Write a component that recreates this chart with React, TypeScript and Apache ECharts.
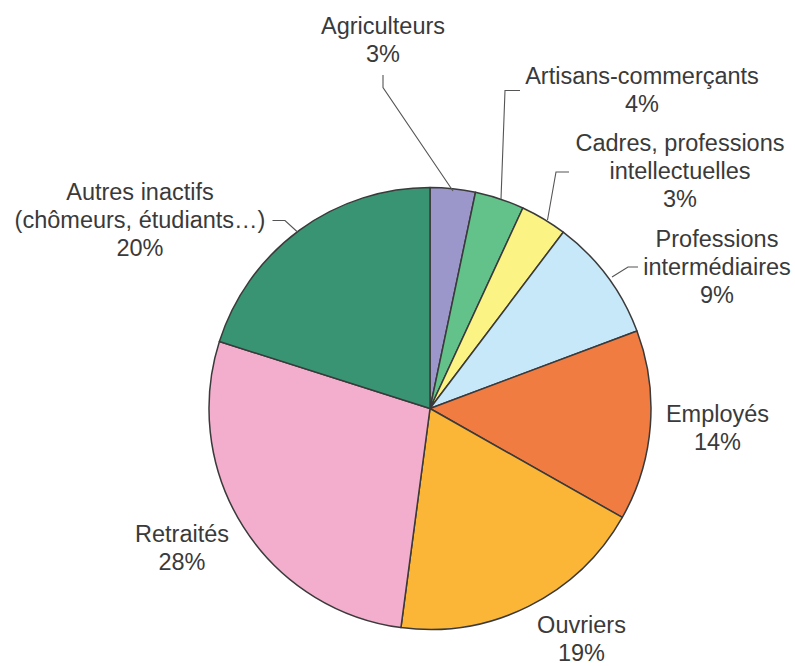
import React, { useEffect, useRef } from "react";
import * as echarts from "echarts";

const categories = [
  "Agriculteurs",
  "Artisans-commerçants",
  "Cadres, professions\nintellectuelles",
  "Professions\nintermédiaires",
  "Employés",
  "Ouvriers",
  "Retraités",
  "Autres inactifs\n(chômeurs, étudiants…)",
];
const values = [3.3, 3.6, 3.4, 9.0, 13.9, 18.9, 27.8, 20.1];
const colors = [
  "#9c97ca",
  "#63c18a",
  "#fbf383",
  "#c7e8f8",
  "#f17c42",
  "#fbb637",
  "#f3aecd",
  "#389473",
];

// label block centres (layout only)
const labelPos: [number, number][] = [
  [383, 40],
  [642, 89.5],
  [680, 171],
  [717, 267],
  [717.5, 427.5],
  [581.5, 638.5],
  [182, 548],
  [140, 220],
];

// leader lines (layout only)
const leaders: [number, number][][] = [
  [[383, 75], [383, 87.5], [453, 191]],
  [[520, 90.5], [505, 90.5], [501, 199]],
  [[569, 172], [556, 172], [547.5, 220]],
  [[638, 267], [628, 267], [612, 277]],
  [[272.5, 220.5], [285, 220.5], [297.5, 232]],
];

export default function App() {
  const ref = useRef<HTMLDivElement>(null);
  useEffect(() => {
    if (!ref.current) return;
    const chart = echarts.init(ref.current, null, { renderer: "svg" });
    chart.setOption({
      animation: false,
      backgroundColor: "#ffffff",
      series: [
        {
          type: "pie",
          center: [430, 408.5],
          radius: 221,
          startAngle: 90,
          clockwise: true,
          avoidLabelOverlap: false,
          percentPrecision: 0,
          itemStyle: { borderColor: "#3a3a3a", borderWidth: 1.5 },
          label: {
            show: true,
            position: "outside",
            formatter: "{b}\n{d}%",
            fontFamily: "Liberation Sans, Arial, sans-serif",
            fontSize: 23.5,
            lineHeight: 28,
            color: "#3a3a3a",
          },
          labelLine: { show: false },
          labelLayout: (params: any) => {
            const p = labelPos[params.dataIndex];
            return { x: p[0], y: p[1], align: "center", verticalAlign: "middle" };
          },
          emphasis: { disabled: true },
          data: categories.map((name, i) => ({
            name,
            value: values[i],
            itemStyle: { color: colors[i] },
          })),
        },
      ],
      graphic: leaders.map((pts) => ({
        type: "polyline",
        shape: { points: pts },
        style: { stroke: "#555555", lineWidth: 1.1, fill: null },
        silent: true,
        z: 10,
      })),
    });
    return () => chart.dispose();
  }, []);
  return (
    <div
      ref={ref}
      style={{ position: "absolute", left: 0, top: 0, width: 795, height: 666 }}
    />
  );
}
